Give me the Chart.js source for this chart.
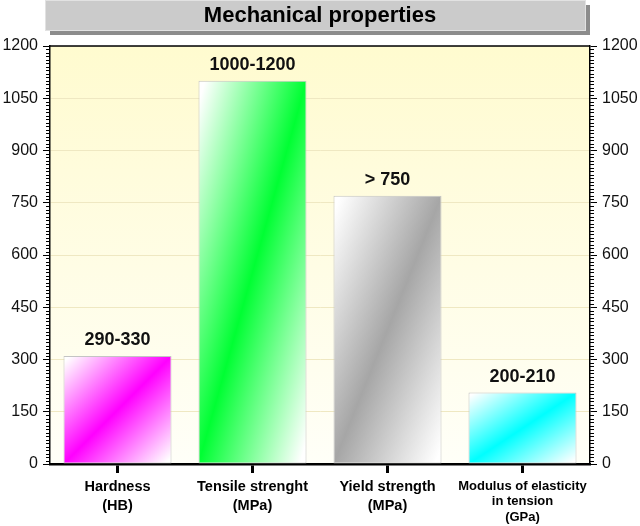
<!DOCTYPE html>
<html>
<head>
<meta charset="utf-8">
<script src="https://cdn.jsdelivr.net/npm/chart.js@4.4.1/dist/chart.umd.min.js"></script>
<style>
  html, body { margin: 0; padding: 0; background: #fff; }
  #wrap { width: 640px; height: 526px; }
</style>
</head>
<body>
<div id="wrap"><canvas id="mechChart" width="640" height="526"></canvas></div>
<script>
const categories = [
    ['Hardness', '(HB)'],
    ['Tensile strenght', '(MPa)'],
    ['Yield strength', '(MPa)'],
    ['Modulus of elasticity', 'in tension', '(GPa)']
];
const values = [310, 1100, 770, 205];
const valueLabels = ['290-330', '1000-1200', '> 750', '200-210'];
const barColors = ['#ff00ff', '#00ff33', '#a6a6a6', '#00ffff'];
const yTicks = [0, 150, 300, 450, 600, 750, 900, 1050, 1200];

Chart.defaults.font.family = "'Liberation Sans', Arial, sans-serif";
Chart.defaults.color = '#000';

// diagonal white -> colour -> white fill, like the original bars
function barFill(c) {
    const chart = c.chart;
    const i = c.dataIndex;
    if (!chart.chartArea || i === undefined) return barColors[i] || '#ccc';
    const xs = chart.scales.x;
    const ys = chart.scales.y;
    const w = xs.width / categories.length * 0.8;
    const cx = xs.getPixelForValue(i);
    const top = ys.getPixelForValue(values[i]);
    const bottom = ys.getPixelForValue(0);
    const h = bottom - top;
    const cy = (top + bottom) / 2;
    const k = (w * h) / (w * w + h * h);
    const g = chart.ctx.createLinearGradient(cx - k * h, cy - k * w, cx + k * h, cy + k * w);
    g.addColorStop(0.03, '#ffffff');
    g.addColorStop(0.5, barColors[i]);
    g.addColorStop(0.97, '#ffffff');
    return g;
}

const decor = {
    id: 'decor',
    beforeDraw(chart) {
        const { ctx, chartArea: a } = chart;
        ctx.save();
        // title box + shadow
        ctx.fillStyle = '#8c8c8c';
        ctx.fillRect(50, 5, 540, 30);
        ctx.fillStyle = '#cbcbcb';
        ctx.fillRect(45, 0, 541, 31);
        ctx.strokeStyle = '#e2e2e2';
        ctx.lineWidth = 1;
        ctx.strokeRect(45.5, 0.5, 540, 30);
        // plot background
        const bg = ctx.createLinearGradient(0, a.top, 0, a.bottom);
        bg.addColorStop(0, '#fffbcf');
        bg.addColorStop(0.3, '#fffcdc');
        bg.addColorStop(1, '#fffff8');
        ctx.fillStyle = bg;
        ctx.fillRect(a.left, a.top, a.right - a.left, a.bottom - a.top);
        ctx.restore();
    },
    afterDraw(chart) {
        const { ctx, chartArea: a } = chart;
        const ys = chart.scales.y;
        ctx.save();
        ctx.strokeStyle = '#000';
        ctx.lineWidth = 1.5;
        ctx.beginPath();
        ctx.moveTo(a.left, a.top);
        ctx.lineTo(a.right, a.top);
        ctx.stroke();
        // minor ticks every 10
        ctx.lineWidth = 1;
        ctx.beginPath();
        for (let v = 10; v < 1200; v += 10) {
            if (v % 150 === 0) continue;
            const y = Math.round(ys.getPixelForValue(v)) + 0.5;
            ctx.moveTo(a.left - 4, y);
            ctx.lineTo(a.left, y);
            ctx.moveTo(a.right, y);
            ctx.lineTo(a.right + 4, y);
        }
        ctx.stroke();
        ctx.restore();
    },
    afterDatasetsDraw(chart) {
        const { ctx } = chart;
        const meta = chart.getDatasetMeta(0);
        ctx.save();
        ctx.font = "bold 18px 'Liberation Sans', Arial, sans-serif";
        ctx.fillStyle = '#111';
        ctx.textAlign = 'center';
        ctx.textBaseline = 'middle';
        meta.data.forEach((el, i) => {
            ctx.fillText(valueLabels[i], el.x, el.y - 16);
        });
        ctx.restore();
    }
};

const yAxis = (pos) => ({
    type: 'linear',
    position: pos,
    min: 0,
    max: 1200,
    afterBuildTicks: (s) => { s.ticks = yTicks.map(v => ({ value: v })); },
    afterFit: (s) => { s.width = 50; },
    ticks: {
        font: { size: 16 },
        color: '#111',
        padding: 5,
        callback: (v) => String(v)
    },
    grid: {
        display: true,
        drawOnChartArea: pos === 'left',
        color: '#efe8c2',
        lineWidth: 1,
        tickLength: 7,
        tickColor: '#000',
        tickWidth: 1
    },
    border: { display: true, color: '#000', width: 1.5 }
});

new Chart(document.getElementById('mechChart'), {
    type: 'bar',
    data: {
        labels: categories,
        datasets: [{
            data: values,
            backgroundColor: barFill,
            borderColor: '#c4c4c4',
            borderWidth: 1,
            borderSkipped: false,
            barPercentage: 0.8,
            categoryPercentage: 1
        }]
    },
    options: {
        responsive: false,
        animation: false,
        layout: { padding: { left: 0, right: 0, top: 0, bottom: 0 } },
        plugins: {
            legend: { display: false },
            tooltip: { enabled: false },
            title: {
                display: true,
                text: 'Mechanical properties',
                font: { size: 22, weight: 'bold' },
                color: '#000',
                padding: { top: 3, bottom: 16.6 }
            }
        },
        scales: {
            x: {
                afterFit: (s) => { s.height = 62; },
                ticks: {
                    autoSkip: false,
                    maxRotation: 0,
                    padding: 5,
                    color: '#000',
                    font: (c) => c.index === 3
                        ? { size: 13, weight: 'bold', lineHeight: 1.22 }
                        : { size: 14.5, weight: 'bold', lineHeight: 1.27 }
                },
                grid: {
                    display: true,
                    offset: false,
                    drawOnChartArea: false,
                    tickLength: 9,
                    tickWidth: 3,
                    tickColor: '#000'
                },
                border: { display: true, color: '#000', width: 2.5 }
            },
            y: yAxis('left'),
            y2: yAxis('right')
        }
    },
    plugins: [decor]
});
</script>
</body>
</html>
